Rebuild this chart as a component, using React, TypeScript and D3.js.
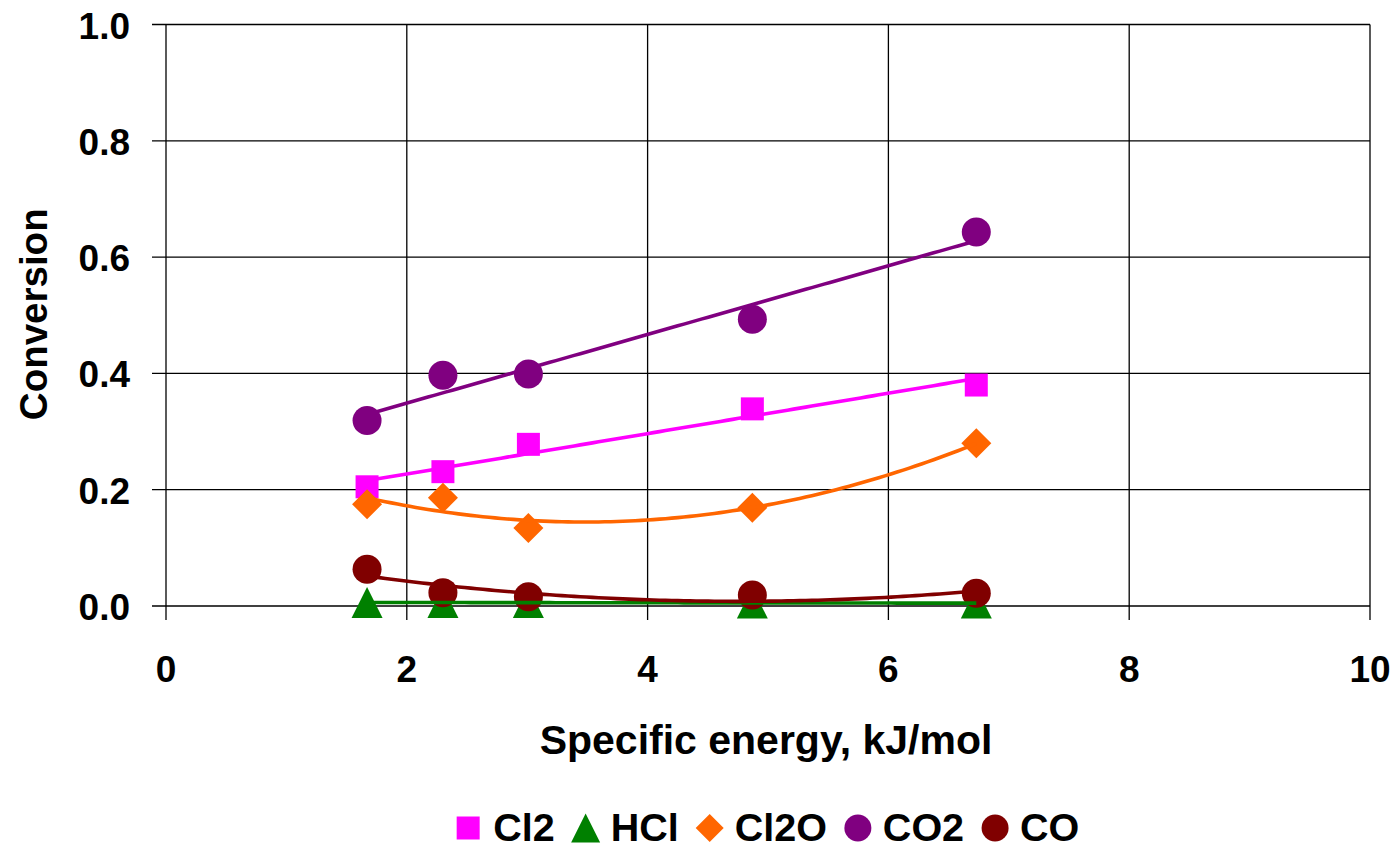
import React, { useEffect, useRef } from "react";
import * as d3 from "d3";

// Specific energy (kJ/mol) of each run
const energy = [1.67, 2.3, 3.01, 4.87, 6.73];

// Conversion per species
const cl2 = [0.205, 0.231, 0.278, 0.339, 0.38];
const hcl = [0.006, 0.006, 0.006, 0.005, 0.005];
const cl2o = [0.175, 0.186, 0.134, 0.169, 0.28];
const co2 = [0.319, 0.397, 0.399, 0.493, 0.643];
const co = [0.063, 0.023, 0.016, 0.019, 0.022];

const xTicks = [0, 2, 4, 6, 8, 10];
const yTicks = [0, 0.2, 0.4, 0.6, 0.8, 1.0];

type Shape = "square" | "triangle" | "diamond" | "circle";
interface Series {
  name: string;
  values: number[];
  color: string;
  shape: Shape;
  order: number; // trendline polynomial order
}

const series: Series[] = [
  { name: "Cl2", values: cl2, color: "#FF00FF", shape: "square", order: 1 },
  { name: "HCl", values: hcl, color: "#008000", shape: "triangle", order: 1 },
  { name: "Cl2O", values: cl2o, color: "#FF6600", shape: "diamond", order: 2 },
  { name: "CO2", values: co2, color: "#800080", shape: "circle", order: 1 },
  { name: "CO", values: co, color: "#800000", shape: "circle", order: 2 },
];

const FONT = "'Liberation Sans', Arial, Helvetica, sans-serif";

// Least-squares polynomial coefficients (c0 + c1 x + c2 x^2 ...)
function polyFit(xs: number[], ys: number[], order: number): number[] {
  const n = order + 1;
  const A: number[][] = Array.from({ length: n }, () => new Array(n + 1).fill(0));
  for (let i = 0; i < xs.length; i++) {
    for (let r = 0; r < n; r++) {
      for (let c = 0; c < n; c++) A[r][c] += Math.pow(xs[i], r + c);
      A[r][n] += ys[i] * Math.pow(xs[i], r);
    }
  }
  for (let col = 0; col < n; col++) {
    let piv = col;
    for (let r = col + 1; r < n; r++) if (Math.abs(A[r][col]) > Math.abs(A[piv][col])) piv = r;
    [A[col], A[piv]] = [A[piv], A[col]];
    for (let r = 0; r < n; r++) {
      if (r === col) continue;
      const f = A[r][col] / A[col][col];
      for (let c = col; c <= n; c++) A[r][c] -= f * A[col][c];
    }
  }
  return A.map((row, i) => row[n] / row[i]);
}

function markerPath(shape: Shape, size: number): string {
  const h = size / 2;
  switch (shape) {
    case "square":
      return `M${-h},${-h}H${h}V${h}H${-h}Z`;
    case "triangle":
      return `M0,${-h}L${h},${h}L${-h},${h}Z`;
    case "diamond":
      return `M0,${-h}L${h},0L0,${h}L${-h},0Z`;
    default:
      return d3.symbol(d3.symbolCircle, Math.PI * h * h)() as string;
  }
}

const plotSize: Record<Shape, number> = { square: 23, triangle: 31, diamond: 30, circle: 29 };
const legendSize: Record<Shape, number> = { square: 23, triangle: 29, diamond: 28, circle: 27 };

export default function App() {
  const ref = useRef<SVGSVGElement | null>(null);
  const W = 1397;
  const H = 845;
  const m = { left: 166, right: 1370, top: 24.5, bottom: 606 };

  useEffect(() => {
    const svg = d3.select(ref.current);
    svg.selectAll("*").remove();

    const x = d3.scaleLinear().domain([0, 10]).range([m.left, m.right]);
    const y = d3.scaleLinear().domain([0, 1]).range([m.bottom, m.top]);

    // grid
    const grid = svg.append("g").attr("stroke", "#000").attr("stroke-width", 1.3);
    yTicks.forEach((t) => {
      grid.append("line").attr("x1", m.left - 14).attr("x2", m.right).attr("y1", y(t)).attr("y2", y(t));
    });
    xTicks.forEach((t) => {
      grid.append("line").attr("x1", x(t)).attr("x2", x(t)).attr("y1", m.top).attr("y2", m.bottom + 14);
    });

    // tick labels
    svg
      .append("g")
      .selectAll("text")
      .data(yTicks)
      .join("text")
      .attr("x", 130)
      .attr("y", (d) => y(d) + 14)
      .attr("text-anchor", "end")
      .attr("font-family", FONT)
      .attr("font-weight", "bold")
      .attr("font-size", 37)
      .text((d) => d3.format(".1f")(d));
    svg
      .append("g")
      .selectAll("text")
      .data(xTicks)
      .join("text")
      .attr("x", (d) => x(d))
      .attr("y", 682)
      .attr("text-anchor", "middle")
      .attr("font-family", FONT)
      .attr("font-weight", "bold")
      .attr("font-size", 37)
      .text((d) => String(d));

    // axis titles
    svg
      .append("text")
      .attr("x", 766)
      .attr("y", 754)
      .attr("text-anchor", "middle")
      .attr("font-family", FONT)
      .attr("font-weight", "bold")
      .attr("font-size", 41)
      .text("Specific energy, kJ/mol");
    svg
      .append("text")
      .attr("transform", `translate(47,${(m.top + m.bottom) / 2 - 1}) rotate(-90)`)
      .attr("text-anchor", "middle")
      .attr("font-family", FONT)
      .attr("font-weight", "bold")
      .attr("font-size", 38.5)
      .text("Conversion");

    // markers
    series.forEach((s) => {
      svg
        .append("g")
        .selectAll("path")
        .data(s.values)
        .join("path")
        .attr("d", markerPath(s.shape, plotSize[s.shape]))
        .attr("transform", (v, i) => `translate(${x(energy[i])},${y(v)})`)
        .attr("fill", s.color);
    });

    // trendlines
    const x0 = d3.min(energy) as number;
    const x1 = d3.max(energy) as number;
    series.forEach((s) => {
      const c = polyFit(energy, s.values, s.order);
      const pts = d3.range(0, 101).map((k) => {
        const xv = x0 + ((x1 - x0) * k) / 100;
        const yv = c.reduce((acc, ci, p) => acc + ci * Math.pow(xv, p), 0);
        return [xv, yv] as [number, number];
      });
      svg
        .append("path")
        .attr(
          "d",
          d3
            .line<[number, number]>()
            .x((p) => x(p[0]))
            .y((p) => y(p[1]))(pts) as string
        )
        .attr("fill", "none")
        .attr("stroke", s.color)
        .attr("stroke-width", 3.6);
    });

    // legend
    const legend = svg.append("g");
    let cursor = 0;
    series.forEach((s, i) => {
      const g = legend.append("g");
      g.append("path")
        .attr("d", markerPath(s.shape, legendSize[s.shape]))
        .attr("transform", `translate(${cursor},828)`)
        .attr("fill", s.color);
      const t = g
        .append("text")
        .attr("x", cursor + 25)
        .attr("y", 841)
        .attr("font-family", FONT)
        .attr("font-weight", "bold")
        .attr("font-size", 39.5)
        .text(s.name);
      const w = (t.node() as SVGTextElement).getComputedTextLength();
      cursor += 25 + w + (i < series.length - 1 ? 31 : 0);
    });
    const first = legendSize.square / 2;
    const total = cursor + first;
    legend.attr("transform", `translate(${768 - total / 2 + first},0)`);
  }, []);

  return (
    <svg
      ref={ref}
      width={W}
      height={H}
      style={{ position: "absolute", left: 0, top: 0, background: "#fff" }}
    />
  );
}
